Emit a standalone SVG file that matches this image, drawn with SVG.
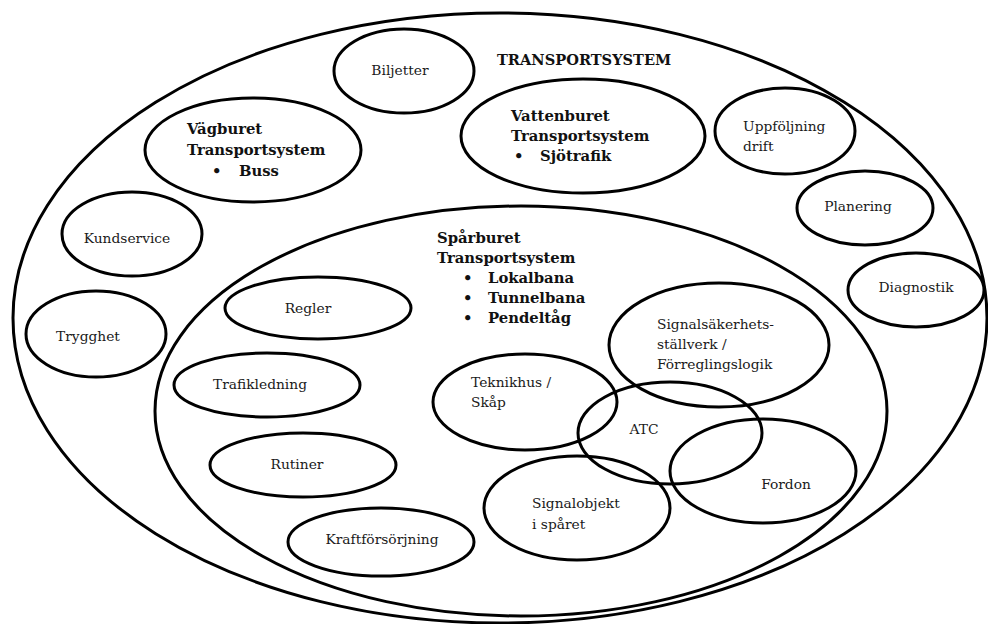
<svg xmlns="http://www.w3.org/2000/svg" width="988" height="624" viewBox="0 0 988 624">
<style>
ellipse{fill:none;stroke:#000;stroke-width:3}
text{font-family:'DejaVu Serif','Liberation Serif',serif;font-size:13.8px;fill:#1a1a1a}
.b{font-weight:bold;font-size:14.8px;fill:#111}
.t{font-weight:bold;font-size:14.6px;fill:#111}
.m{text-anchor:middle}
</style>
<rect width="988" height="624" fill="#fff"/>
<g id="transportsystem">
<ellipse cx="500" cy="318" rx="487" ry="305"/>
<text class="t" x="497" y="65">TRANSPORTSYSTEM</text>
</g>
<g id="sparburet">
<ellipse cx="521" cy="411" rx="366" ry="205"/>
<text class="b" x="437" y="243">Spårburet</text>
<text class="b" x="437" y="263">Transportsystem</text>
<text class="b"><tspan x="463" y="283">•</tspan><tspan x="488" y="283">Lokalbana</tspan></text>
<text class="b"><tspan x="463" y="303">•</tspan><tspan x="488" y="303">Tunnelbana</tspan></text>
<text class="b"><tspan x="463" y="323">•</tspan><tspan x="488" y="323">Pendeltåg</tspan></text>
</g>
<g id="biljetter"><ellipse cx="404" cy="71" rx="70" ry="42"/><text class="m" x="400" y="75">Biljetter</text></g>
<g id="vagburet"><ellipse cx="253" cy="150" rx="108" ry="52"/>
<text class="b" x="187" y="134">Vägburet</text>
<text class="b" x="187" y="155">Transportsystem</text>
<text class="b"><tspan x="212" y="176">•</tspan><tspan x="239" y="176">Buss</tspan></text>
</g>
<g id="vattenburet"><ellipse cx="583" cy="136" rx="122" ry="57"/>
<text class="b" x="511" y="121">Vattenburet</text>
<text class="b" x="511" y="141">Transportsystem</text>
<text class="b"><tspan x="514" y="161">•</tspan><tspan x="540" y="161">Sjötrafik</tspan></text>
</g>
<g id="uppfoljning"><ellipse cx="785" cy="131" rx="70" ry="43"/>
<text x="743" y="131">Uppföljning</text><text x="743" y="151">drift</text></g>
<g id="planering"><ellipse cx="865" cy="208" rx="68" ry="37"/><text class="m" x="858" y="211">Planering</text></g>
<g id="diagnostik"><ellipse cx="916" cy="290" rx="68" ry="37"/><text class="m" x="916" y="292">Diagnostik</text></g>
<g id="kundservice"><ellipse cx="132" cy="234" rx="70" ry="42"/><text class="m" x="127" y="243">Kundservice</text></g>
<g id="trygghet"><ellipse cx="96" cy="334" rx="70" ry="43"/><text class="m" x="88" y="341">Trygghet</text></g>
<g id="regler"><ellipse cx="318" cy="308" rx="93" ry="31"/><text class="m" x="308" y="313">Regler</text></g>
<g id="trafikledning"><ellipse cx="267" cy="385" rx="93" ry="32"/><text class="m" x="260" y="389">Trafikledning</text></g>
<g id="rutiner"><ellipse cx="303" cy="465" rx="93" ry="32"/><text class="m" x="297" y="469">Rutiner</text></g>
<g id="kraftforsorjning"><ellipse cx="381" cy="542" rx="93" ry="34"/><text class="m" x="382" y="544">Kraftförsörjning</text></g>
<g id="signalsakerhet"><ellipse cx="719" cy="345" rx="110" ry="62"/>
<text x="657" y="329">Signalsäkerhets-</text><text x="657" y="349">ställverk /</text><text x="657" y="369">Förreglingslogik</text></g>
<g id="teknikhus"><ellipse cx="525" cy="402" rx="92" ry="48"/>
<text x="471" y="387">Teknikhus /</text><text x="471" y="407">Skåp</text></g>
<g id="atc"><ellipse cx="670" cy="433" rx="92" ry="51"/><text class="m" x="644" y="434">ATC</text></g>
<g id="fordon"><ellipse cx="763" cy="471" rx="93" ry="52"/><text class="m" x="786" y="489">Fordon</text></g>
<g id="signalobjekt"><ellipse cx="577" cy="508" rx="93" ry="52"/>
<text x="532" y="508">Signalobjekt</text><text x="532" y="529">i spåret</text></g>
<g id="connectors"/>
</svg>
